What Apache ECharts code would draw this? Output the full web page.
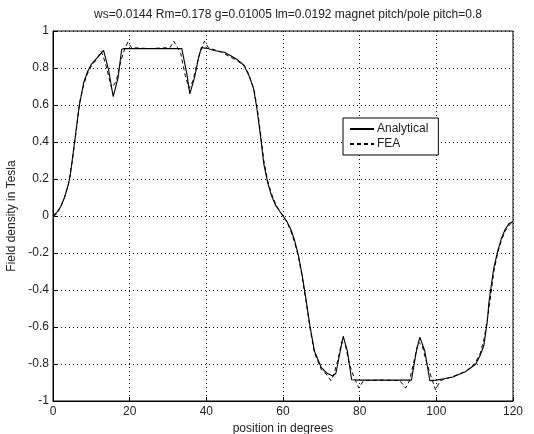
<!DOCTYPE html>
<html>
<head>
<meta charset="utf-8">
<script src="https://cdn.jsdelivr.net/npm/echarts@6/dist/echarts.min.js"></script>
<style>
  html, body { margin: 0; padding: 0; background: #fff; }
  #chart { width: 534px; height: 434px; }
</style>
</head>
<body>
<div id="chart"></div>
<script>
// Air-gap field density vs. rotor position (analytical model vs. FEA)
const titleText = 'ws=0.0144 Rm=0.178 g=0.01005 lm=0.0192 magnet pitch/pole pitch=0.8';

const analyticalX = [0, 1, 2, 3, 4, 4.5, 5, 5.5, 6, 6.8, 8, 9, 10, 11.5, 13.2, 14.5, 15.7, 17, 17.9, 18.5,
  22, 26, 30, 33.6, 34.9, 35.7, 37, 37.9, 38.7, 40.4, 42, 44.7, 46.5, 48.1, 49.8, 51.1, 52.3, 53.2, 53.7,
  54.2, 55, 56, 57, 58, 59, 60, 61, 62, 63, 64, 65, 66, 67, 68.2, 70, 71.5, 73, 73.8, 75.7, 76.8, 77.9,
  80, 85, 90, 93.5, 94.8, 95.7, 97, 98.3, 100, 102, 104.3, 106, 107.7, 109, 110.3, 111.5, 112.4, 113.3,
  113.7, 114.3, 115, 116, 117, 118, 119, 120];
const analyticalY = [0, 0.02, 0.05, 0.1, 0.17, 0.22, 0.3, 0.38, 0.46, 0.59, 0.72, 0.78, 0.82, 0.855, 0.895, 0.79, 0.645, 0.75, 0.9, 0.905,
  0.905, 0.905, 0.905, 0.905, 0.77, 0.66, 0.755, 0.85, 0.91, 0.905, 0.895, 0.885, 0.865, 0.845, 0.815, 0.76, 0.69, 0.58, 0.5,
  0.42, 0.28, 0.18, 0.11, 0.06, 0.03, 0, -0.03, -0.07, -0.13, -0.21, -0.32, -0.45, -0.59, -0.73, -0.82, -0.85, -0.865, -0.85, -0.65, -0.73, -0.885,
  -0.887, -0.887, -0.887, -0.887, -0.73, -0.655, -0.73, -0.89, -0.887, -0.88, -0.87, -0.855, -0.84, -0.82, -0.8, -0.75, -0.7, -0.57,
  -0.47, -0.38, -0.28, -0.19, -0.12, -0.07, -0.04, -0.03];

const feaX = [0, 1, 2, 3, 4, 5, 6, 7, 8, 9, 10, 11.5, 12.5, 13, 14, 15.3, 16.5, 17.5, 18.3, 19.5, 20.5,
  25, 30.5, 31.5, 32.5, 33.3, 34.5, 35.5, 36.5, 37.3, 38.3, 39.5, 40.5, 44, 48, 50, 51, 52.5, 53.5, 54.3,
  55, 56, 57, 58, 59, 60, 61, 62, 63, 64, 65, 66, 67, 68.2, 70, 71.5, 72.5, 73.2, 74.3, 75.3, 76.3, 77.3,
  78.5, 79.8, 81, 85, 90.5, 92, 93, 94, 95.3, 96.3, 97.3, 98.5, 99.8, 101, 104, 107.7, 110, 111.5, 112.5,
  113.3, 114, 115, 116, 117, 118, 119, 120];
const feaY = [0, 0.01, 0.05, 0.1, 0.17, 0.29, 0.45, 0.62, 0.71, 0.77, 0.81, 0.85, 0.89, 0.87, 0.8, 0.69, 0.73, 0.82, 0.88, 0.94, 0.91,
  0.905, 0.91, 0.945, 0.91, 0.88, 0.76, 0.69, 0.73, 0.8, 0.88, 0.945, 0.91, 0.885, 0.84, 0.81, 0.77, 0.68, 0.55, 0.42,
  0.3, 0.19, 0.12, 0.07, 0.03, 0, -0.03, -0.08, -0.14, -0.22, -0.33, -0.46, -0.6, -0.74, -0.83, -0.86, -0.89, -0.86, -0.78, -0.68, -0.7, -0.8,
  -0.87, -0.93, -0.89, -0.887, -0.89, -0.93, -0.89, -0.8, -0.68, -0.7, -0.78, -0.86, -0.94, -0.89, -0.87, -0.84, -0.8, -0.74, -0.66,
  -0.56, -0.46, -0.3, -0.2, -0.13, -0.08, -0.05, -0.03];

const xTicks = [0, 20, 40, 60, 80, 100, 120];
const yTicks = [-1, -0.8, -0.6, -0.4, -0.2, 0, 0.2, 0.4, 0.6, 0.8, 1];

const pairs = (xs, ys) => xs.map((x, i) => [x, ys[i]]);
const FONT = 'Liberation Sans, Arial, sans-serif';
const ink = '#222';

const gridDots = { show: true, lineStyle: { color: '#111', width: 1, type: [1, 3] } };

const chart = echarts.init(document.getElementById('chart'), null, { renderer: 'canvas' });
chart.setOption({
  animation: false,
  backgroundColor: '#fff',
  title: {
    text: titleText,
    left: 283, top: 4, textAlign: 'center',
    textStyle: { fontFamily: FONT, fontSize: 12, fontWeight: 'normal', color: ink }
  },
  grid: {
    left: 53, right: 21, top: 31, bottom: 33,
    outerBoundsMode: 'none', containLabel: false,
    show: true, borderColor: '#000', borderWidth: 1
  },
  legend: {
    left: 343, top: 118, orient: 'vertical',
    data: ['Analytical', 'FEA'],
    backgroundColor: '#fff', borderColor: '#000', borderWidth: 1,
    padding: [5, 10, 5, 6], itemGap: 3, itemWidth: 24, itemHeight: 8,
    itemStyle: { opacity: 0, borderWidth: 0 },
    textStyle: { fontFamily: FONT, fontSize: 12, color: ink, padding: [0, 0, 0, -2] }
  },
  xAxis: {
    type: 'value', min: 0, max: 120, interval: 20,
    name: 'position in degrees', nameLocation: 'middle', nameGap: 18,
    nameTextStyle: { fontFamily: FONT, fontSize: 12, color: ink },
    axisLine: { onZero: false, lineStyle: { color: '#000' } },
    axisTick: { inside: true, length: 4, lineStyle: { color: '#000' } },
    axisLabel: { fontFamily: FONT, fontSize: 12, color: ink, margin: 5,
      customValues: xTicks },
    splitLine: gridDots
  },
  yAxis: {
    type: 'value', min: -1, max: 1, interval: 0.2,
    name: 'Field density in Tesla', nameLocation: 'middle', nameGap: 33, nameRotate: 90,
    nameTextStyle: { fontFamily: FONT, fontSize: 12, color: ink },
    axisLine: { onZero: false, lineStyle: { color: '#000' } },
    axisTick: { inside: true, length: 4, lineStyle: { color: '#000' } },
    axisLabel: { fontFamily: FONT, fontSize: 12, color: ink, margin: 4,
      customValues: yTicks, formatter: v => String(+v.toFixed(1)) },
    splitLine: gridDots
  },
  series: [
    {
      name: 'Analytical', type: 'line', data: pairs(analyticalX, analyticalY),
      symbol: 'none', smooth: false,
      lineStyle: { color: '#000', width: 1.1 }, itemStyle: { color: '#000' }
    },
    {
      name: 'FEA', type: 'line', data: pairs(feaX, feaY),
      symbol: 'none', smooth: false,
      lineStyle: { color: '#000', width: 1, type: [4, 3] }, itemStyle: { color: '#000' }
    }
  ]
});
</script>
</body>
</html>
